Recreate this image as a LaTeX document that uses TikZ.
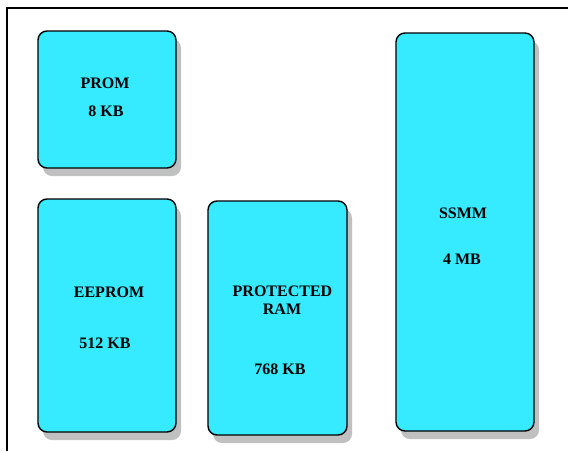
\documentclass[tikz,border=0pt]{standalone}
\usepackage{fontspec}
\setmainfont{Liberation Serif}
\usetikzlibrary{shadows}
\definecolor{boxcyan}{RGB}{54,234,255}
\definecolor{shadowgray}{RGB}{192,192,192}
\begin{document}
\begin{tikzpicture}[x=1pt,y=-1pt,
  membox/.style={draw=black, line width=1.4pt, fill=boxcyan, rounded corners=9pt,
    inner sep=0pt, outer sep=0pt,
    drop shadow={shadow xshift=5pt, shadow yshift=-8pt, fill=shadowgray, opacity=1}},
  lbl/.style={font=\fontsize{16}{18}\selectfont\bfseries, inner sep=0pt, anchor=base}]
\useasboundingbox (0,0) rectangle (568,451);
\fill[white] (0,0) rectangle (568,451);
% frame
\coordinate (ftr) at (568,8);
\coordinate (ftl) at (7,8);
\coordinate (fbl) at (7,451);
\draw[line width=2pt] (ftr) -- (ftl) -- (fbl);
% boxes
\node[membox, minimum width=138pt, minimum height=137pt] (prom) at (107,99.5) {};
\node[membox, minimum width=138pt, minimum height=233pt] (eeprom) at (107,315.5) {};
\node[membox, minimum width=139pt, minimum height=234pt] (pram) at (277.5,318) {};
\node[membox, minimum width=138pt, minimum height=398pt] (ssmm) at (465,232) {};
% labels
\node[lbl] (promname) at (105,88) {PROM};
\node[lbl] (promsize) at (106,116) {8 KB};
\node[lbl] (eepname) at (109,297) {EEPROM};
\node[lbl] (eepsize) at (105,348) {512 KB};
\node[lbl] (pramname1) at (282.5,296) {PROTECTED};
\node[lbl] (pramname2) at (282,314) {RAM};
\node[lbl] (pramsize) at (280,374) {768 KB};
\node[lbl] (ssmmname) at (463,218) {SSMM};
\node[lbl] (ssmmsize) at (462,264) {4 MB};
\end{tikzpicture}
\end{document}
